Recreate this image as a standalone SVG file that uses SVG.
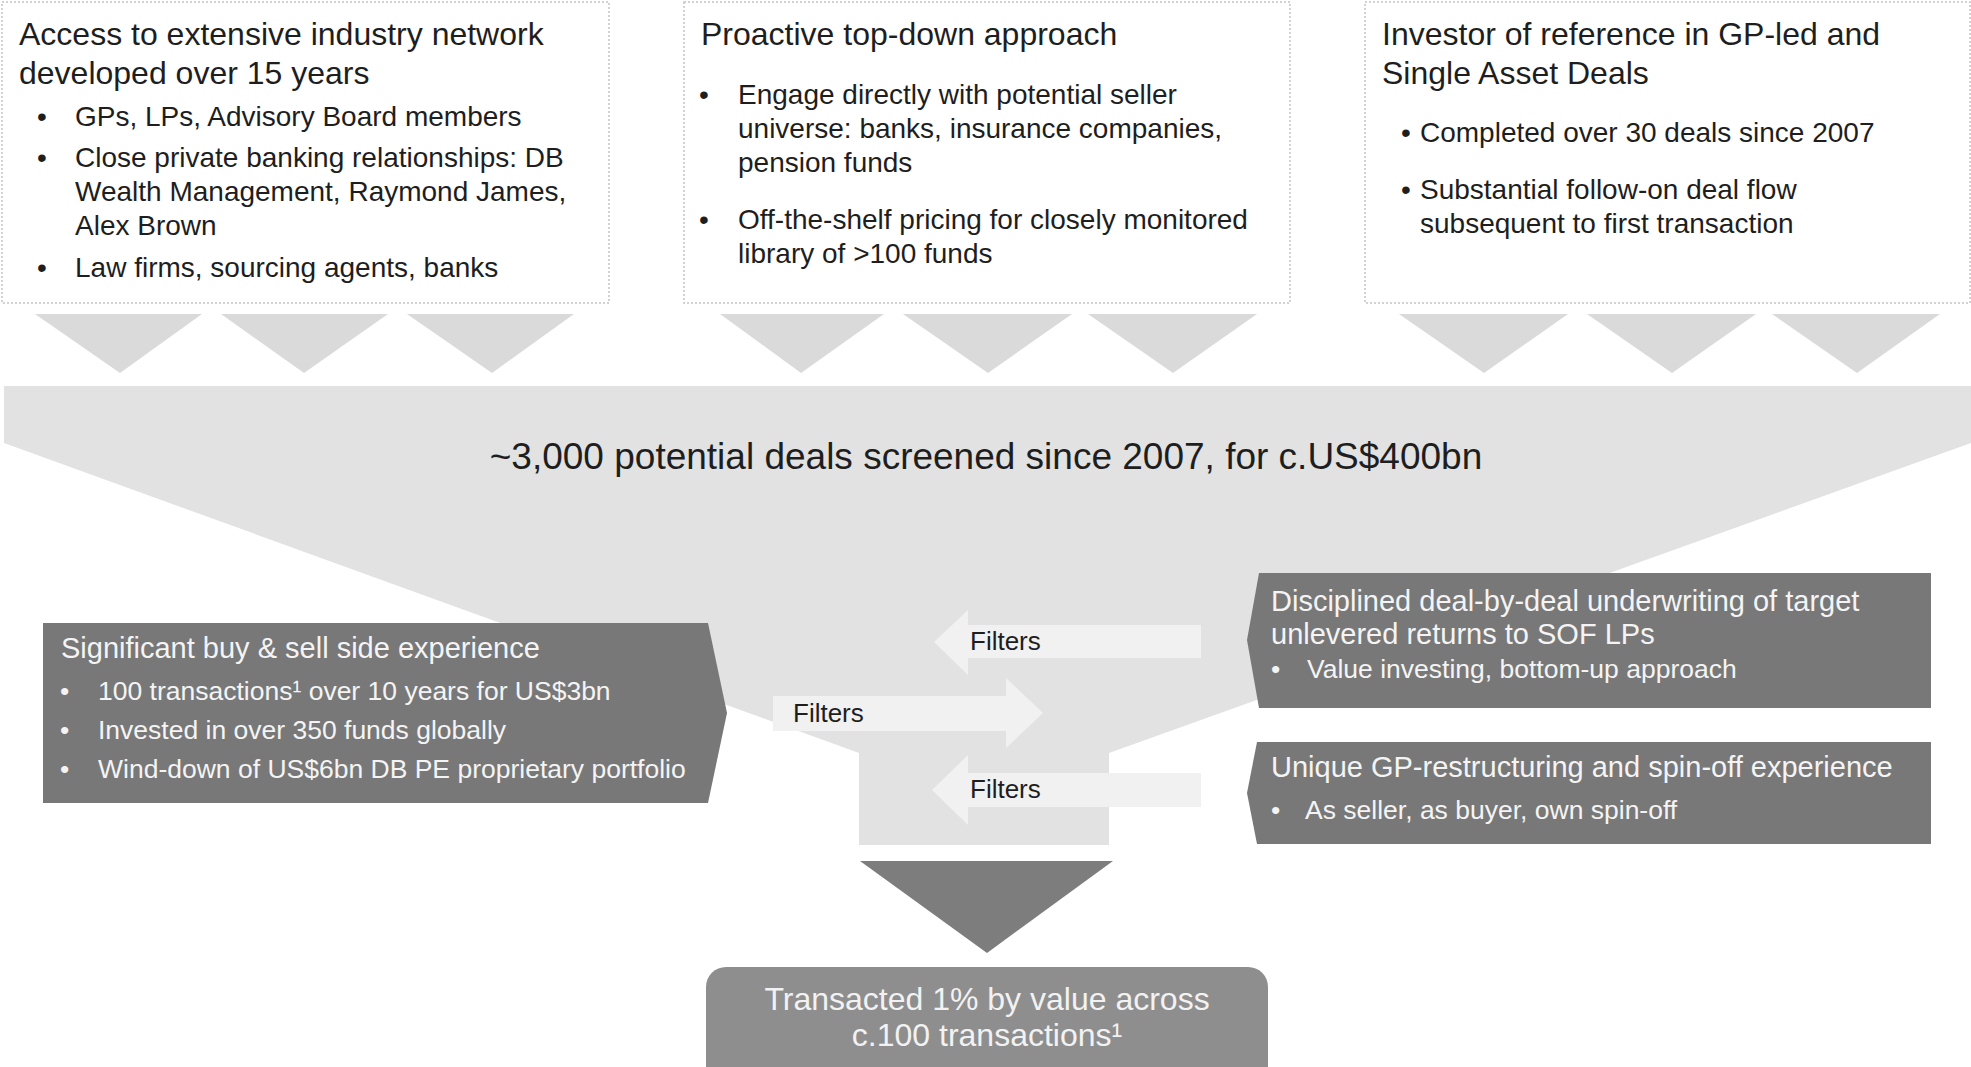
<svg xmlns="http://www.w3.org/2000/svg" width="1971" height="1067" viewBox="0 0 1971 1067">
<style>
text{font-family:"Liberation Sans",Arial,sans-serif;}
.box{fill:#ffffff;stroke:#c4c4c4;stroke-width:1.5;stroke-dasharray:2 2;}
.t32{font-size:32px;fill:#1e1e1e;}
.t28{font-size:28px;fill:#1e1e1e;}
.dark{fill:#787878;}
.wt{font-size:29px;fill:#f4f4f4;}
.wb{font-size:26.5px;fill:#f4f4f4;}
.tri{fill:#dadada;}
.funnel{fill:#e2e2e2;}
.filt{fill:#f1f1f1;}
.flab{font-size:26px;fill:#1e1e1e;}
</style>
<rect width="1971" height="1067" fill="#ffffff"/>

<g id="funnel">
<polygon class="funnel" points="4,386 1971,386 1971,443 1109,753 1109,845 859,845 859,753 4,443"/>
<text x="986" y="469" text-anchor="middle" style="font-size:37px;fill:#1e1e1e">~3,000 potential deals screened since 2007, for c.US$400bn</text>
</g>

<g id="connectors">
<polygon class="tri" points="35,314 202,314 120,373"/>
<polygon class="tri" points="221,314 388,314 304,373"/>
<polygon class="tri" points="407,314 574,314 492,373"/>
<polygon class="tri" points="720,314 884,314 801,373"/>
<polygon class="tri" points="903,314 1072,314 988,373"/>
<polygon class="tri" points="1088,314 1257,314 1173,373"/>
<polygon class="tri" points="1399,314 1568,314 1484,373"/>
<polygon class="tri" points="1587,314 1756,314 1672,373"/>
<polygon class="tri" points="1772,314 1940,314 1857,373"/>
<g id="filter1"><polygon class="filt" points="934,642 968,610 968,625 1201,625 1201,658 968,658 968,675"/><text class="flab" x="970" y="650">Filters</text></g>
<g id="filter2"><polygon class="filt" points="1043,713 1006,678 1006,696 773,696 773,731 1006,731 1006,748"/><text class="flab" x="793" y="722">Filters</text></g>
<g id="filter3"><polygon class="filt" points="932,790 968,755 968,773 1201,773 1201,807 968,807 968,825"/><text class="flab" x="970" y="798">Filters</text></g>
<polygon id="arrow-down" fill="#7d7d7d" points="860,861 1113,861 987,953"/>
</g>

<g id="box-network">
<rect class="box" x="2" y="2" width="607" height="301"/>
<text class="t32" x="19" y="45">Access to extensive industry network</text>
<text class="t32" x="19" y="84">developed over 15 years</text>
<text class="t28" x="37" y="126">•</text><text class="t28" x="75" y="126">GPs, LPs, Advisory Board members</text>
<text class="t28" x="37" y="167">•</text><text class="t28" x="75" y="167">Close private banking relationships: DB</text>
<text class="t28" x="75" y="201">Wealth Management, Raymond James,</text>
<text class="t28" x="75" y="235">Alex Brown</text>
<text class="t28" x="37" y="277">•</text><text class="t28" x="75" y="277">Law firms, sourcing agents, banks</text>
</g>

<g id="box-proactive">
<rect class="box" x="684" y="2" width="606" height="301"/>
<text class="t32" x="701" y="45">Proactive top-down approach</text>
<text class="t28" x="699" y="104">•</text><text class="t28" x="738" y="104">Engage directly with potential seller</text>
<text class="t28" x="738" y="138">universe: banks, insurance companies,</text>
<text class="t28" x="738" y="172">pension funds</text>
<text class="t28" x="699" y="229">•</text><text class="t28" x="738" y="229">Off-the-shelf pricing for closely monitored</text>
<text class="t28" x="738" y="263">library of &gt;100 funds</text>
</g>

<g id="box-investor">
<rect class="box" x="1365" y="2" width="605" height="301"/>
<text class="t32" x="1382" y="45">Investor of reference in GP-led and</text>
<text class="t32" x="1382" y="84">Single Asset Deals</text>
<text class="t28" x="1401" y="142">•</text><text class="t28" x="1420" y="142">Completed over 30 deals since 2007</text>
<text class="t28" x="1401" y="199">•</text><text class="t28" x="1420" y="199">Substantial follow-on deal flow</text>
<text class="t28" x="1420" y="233">subsequent to first transaction</text>
</g>

<g id="box-buysell">
<polygon class="dark" points="43,623 708,623 727,713 708,803 43,803"/>
<text class="wt" x="61" y="658">Significant buy &amp; sell side experience</text>
<text class="wb" x="60" y="700">•</text><text class="wb" x="98" y="700">100 transactions¹ over 10 years for US$3bn</text>
<text class="wb" x="60" y="739">•</text><text class="wb" x="98" y="739">Invested in over 350 funds globally</text>
<text class="wb" x="60" y="778">•</text><text class="wb" x="98" y="778">Wind-down of US$6bn DB PE proprietary portfolio</text>
</g>

<g id="box-underwriting">
<polygon class="dark" points="1259,573 1931,573 1931,708 1259,708 1247,640"/>
<text class="wt" x="1271" y="611">Disciplined deal-by-deal underwriting of target</text>
<text class="wt" x="1271" y="644">unlevered returns to SOF LPs</text>
<text class="wb" x="1271" y="678">•</text><text class="wb" x="1307" y="678">Value investing, bottom-up approach</text>
</g>

<g id="box-gp">
<polygon class="dark" points="1257,742 1931,742 1931,844 1257,844 1247,793"/>
<text class="wt" x="1271" y="777">Unique GP-restructuring and spin-off experience</text>
<text class="wb" x="1271" y="819">•</text><text class="wb" x="1305" y="819">As seller, as buyer, own spin-off</text>
</g>

<g id="box-result">
<rect x="706" y="967" width="562" height="120" rx="20" ry="20" fill="#8e8e8e"/>
<text x="987" y="1010" text-anchor="middle" style="font-size:32px;fill:#f2f2f2">Transacted 1% by value across</text>
<text x="987" y="1046" text-anchor="middle" style="font-size:32px;fill:#f2f2f2">c.100 transactions¹</text>
</g>
</svg>
